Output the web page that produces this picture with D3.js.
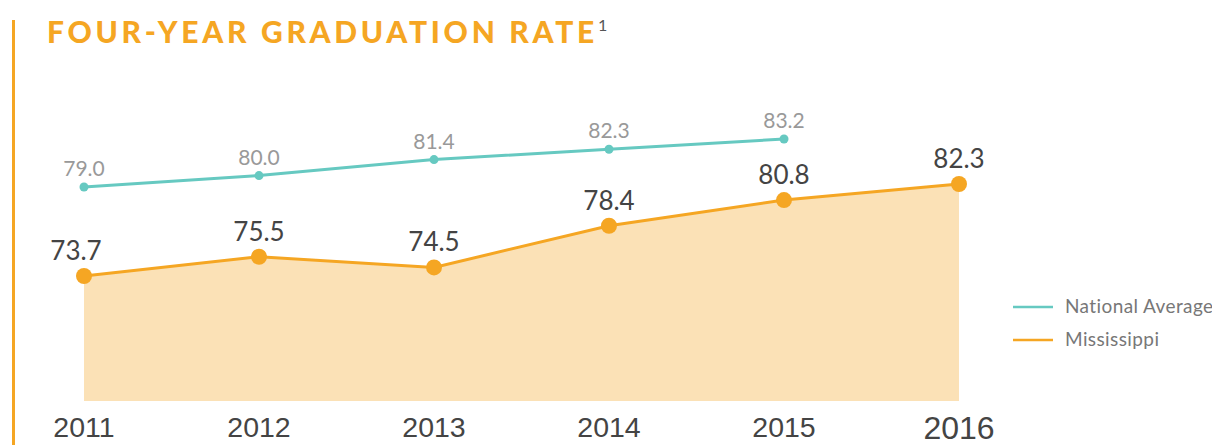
<!DOCTYPE html>
<html>
<head>
<meta charset="UTF-8">
<script src="https://cdnjs.cloudflare.com/ajax/libs/d3/7.8.5/d3.min.js"></script>
<style>
    body { margin: 0; background: #fff; }
    svg { display: block; }
</style>
</head>
<body>
<svg id="chart" width="1212" height="445"></svg>
<script>
var years = [2011, 2012, 2013, 2014, 2015, 2016];
var mississippi = [73.7, 75.5, 74.5, 78.4, 80.8, 82.3];
var national = [79.0, 80.0, 81.4, 82.3, 83.2];
var seriesNames = ["National Average", "Mississippi"];

var orange = "#F5A623", teal = "#66C9C1", fillColor = "#FBE1B6";

var svg = d3.select("#chart");

// left accent bar + title
svg.append("rect").attr("x", 12).attr("y", 20).attr("width", 3).attr("height", 425).attr("fill", orange);
var title = svg.append("text").attr("x", 47).attr("y", 43)
    .style("font-family", "Lato, sans-serif").style("font-weight", 900)
    .style("font-size", "30px").style("letter-spacing", "3.7px").attr("fill", orange)
    .text("FOUR-YEAR GRADUATION RATE");
title.append("tspan").attr("dx", 0).attr("dy", -12)
    .style("font-size", "16px").style("font-weight", 400).style("letter-spacing", "0px")
    .attr("fill", "#555").text("1");

var x = d3.scalePoint().domain(years).range([84, 959]);
// the two series sit on separate vertical bands in the original
var yMS = d3.scaleLinear().domain([73.7, 82.3]).range([276, 184]);
var yNat = d3.scaleLinear().domain([79.0, 83.2]).range([187, 139]);
var baseY = 401;

var msData = years.map(function(y, i){ return {year: y, v: mississippi[i]}; });
var natData = national.map(function(v, i){ return {year: years[i], v: v}; });

svg.append("path").datum(msData)
    .attr("fill", fillColor)
    .attr("d", d3.area().x(function(d){ return x(d.year); }).y0(baseY).y1(function(d){ return yMS(d.v); }));

svg.append("path").datum(msData)
    .attr("fill", "none").attr("stroke", orange).attr("stroke-width", 3)
    .attr("d", d3.line().x(function(d){ return x(d.year); }).y(function(d){ return yMS(d.v); }));

svg.append("path").datum(natData)
    .attr("fill", "none").attr("stroke", teal).attr("stroke-width", 3)
    .attr("d", d3.line().x(function(d){ return x(d.year); }).y(function(d){ return yNat(d.v); }));

svg.selectAll(".natDot").data(natData).join("circle")
    .attr("cx", function(d){ return x(d.year); }).attr("cy", function(d){ return yNat(d.v); })
    .attr("r", 4.5).attr("fill", teal);

svg.selectAll(".msDot").data(msData).join("circle")
    .attr("cx", function(d){ return x(d.year); }).attr("cy", function(d){ return yMS(d.v); })
    .attr("r", 8).attr("fill", orange);

svg.selectAll(".natLab").data(natData).join("text")
    .attr("x", function(d){ return x(d.year); }).attr("y", function(d){ return yNat(d.v) - 11; })
    .attr("text-anchor", "middle").attr("fill", "#999")
    .style("font-family", "Lato, sans-serif").style("font-size", "21px")
    .text(function(d){ return d.v.toFixed(1); });

svg.selectAll(".msLab").data(msData).join("text")
    .attr("x", function(d, i){ return x(d.year) - (i === 0 ? 8 : 0); })
    .attr("y", function(d){ return yMS(d.v) - 16; })
    .attr("text-anchor", "middle").attr("fill", "#444")
    .style("font-family", "Lato, sans-serif").style("font-size", "26px")
    .text(function(d){ return d.v.toFixed(1); });

// year labels
svg.selectAll(".yr").data(years).join("text")
    .attr("x", function(d){ return x(d); })
    .attr("y", function(d, i){ return i === years.length - 1 ? 439 : 437; })
    .attr("text-anchor", "middle").attr("fill", "#444")
    .style("font-family", "'Liberation Sans', Arial, sans-serif")
    .style("font-size", function(d, i){ return i === years.length - 1 ? "32px" : "28.5px"; })
    .text(function(d){ return d; });

// legend
var legend = svg.selectAll(".leg").data(seriesNames).join("g")
    .attr("transform", function(d, i){ return "translate(1013," + (307 + i * 33) + ")"; });
legend.append("line").attr("x1", 0).attr("x2", 40)
    .attr("stroke", function(d, i){ return i === 0 ? teal : orange; }).attr("stroke-width", 2.5);
legend.append("text").attr("x", 52).attr("y", 6)
    .attr("fill", "#777").style("font-family", "Lato, sans-serif").style("font-size", "19px")
    .style("letter-spacing", "0.4px")
    .text(function(d){ return d; });
</script>
</body>
</html>
